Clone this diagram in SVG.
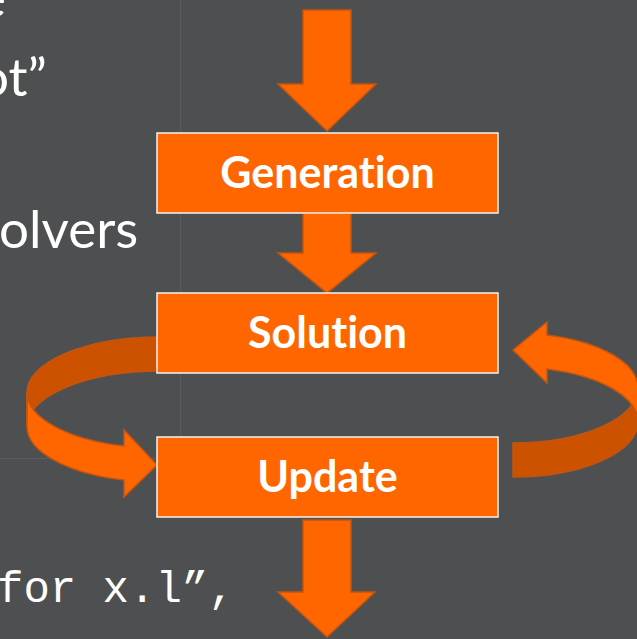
<svg xmlns="http://www.w3.org/2000/svg" width="637" height="639" viewBox="0 0 637 639">
  <style>
    .slide { font-family: Lato, "Open Sans", "Liberation Sans", sans-serif; font-size: 53px; fill: #ffffff; }
    .code { font-family: "Liberation Mono", "DejaVu Sans Mono", monospace; font-size: 44px; fill: #ffffff; }
    .grid { stroke: #5b5c5e; stroke-width: 1; fill: none; }
    .box rect { fill: #ff6600; stroke: #f4f4f4; stroke-width: 1.5; }
    .box text { font-family: Lato, "Open Sans", "Liberation Sans", sans-serif; font-weight: bold; font-size: 43px; fill: #ffffff; text-anchor: middle; font-variant-ligatures: none; }
    .arrow { fill: #ff6600; stroke: #c4550f; stroke-width: 1.5; stroke-linejoin: miter; }
    .back { fill: #cc5200; stroke: #c4550f; stroke-width: 1.5; }
  </style>

  <!-- background -->
  <rect x="0" y="0" width="637" height="639" fill="#4e4f51"/>

  <!-- faint table rules behind the flow -->
  <line class="grid" x1="180.5" y1="0" x2="180.5" y2="437"/>
  <line class="grid" x1="0" y1="458.5" x2="156" y2="458.5"/>

  <!-- slide body text, clipped by the page edge -->
  <text class="slide" x="-22" y="17">e</text>
  <text class="slide" x="-21" y="96">ot”</text>
  <text class="slide" x="-1" y="248">olvers</text>
  <text class="code" x="-3" y="602">for x.l”,</text>

  <!-- connectors -->
  <g id="connectors">
    <!-- input into Generation -->
    <polygon class="arrow" points="303,10 351,10 351,84 376,84 327,131 278,84 303,84"/>
    <!-- Generation to Solution -->
    <polygon class="arrow" points="303,213 351,213 351,253 376,253 327,293 278,253 303,253"/>
    <!-- Update out -->
    <polygon class="arrow" points="303,520 351,520 351,592 375,592 327,637 278,592 303,592"/>

    <!-- loop: Solution round the left to Update -->
    <path class="back" d="M160,337 A133,55.5 0 0 0 27,392.5 L27,426.5 A133,55.5 0 0 1 160,371 Z"/>
    <path class="arrow" d="M27,392.5 A133,55.5 0 0 0 124,446 L124,430 L157,465 L124,497 L124,480 A133,55.5 0 0 1 27,426.5 Z"/>

    <!-- loop: Update round the right back to Solution -->
    <path class="back" d="M513,443 A125,55 0 0 0 638,388 L638,422 A125,55 0 0 1 513,477 Z"/>
    <path class="arrow" d="M638,388 A125,55 0 0 0 547,335 L547,322 L513,350 L547,383 L547,369 A125,55 0 0 1 638,422 Z"/>
  </g>

  <!-- nodes -->
  <g id="generation" class="box">
    <rect x="157" y="133" width="341" height="80"/>
    <text x="327.5" y="188">Generation</text>
  </g>
  <g id="solution" class="box">
    <rect x="157" y="293" width="341" height="80"/>
    <text x="327.5" y="348">Solution</text>
  </g>
  <g id="update" class="box">
    <rect x="157" y="437" width="341" height="80"/>
    <text x="327.5" y="492">Update</text>
  </g>
</svg>
